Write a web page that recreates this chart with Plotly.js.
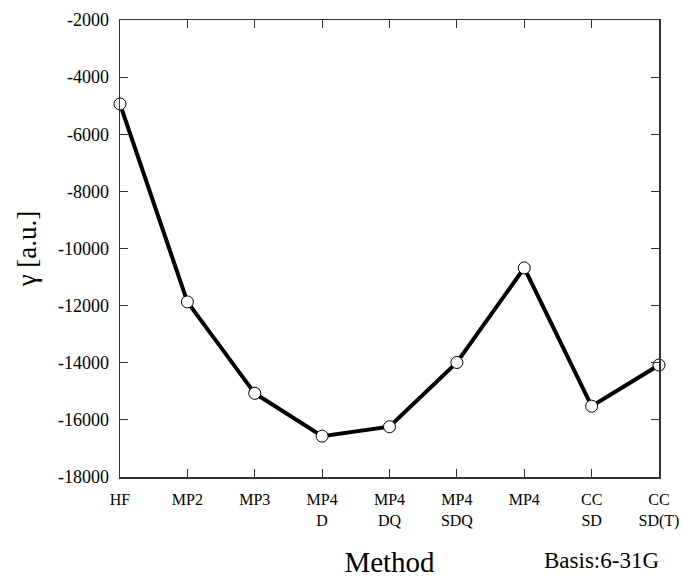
<!DOCTYPE html>
<html>
<head>
<meta charset="utf-8">
<script src="https://cdn.plot.ly/plotly-3.0.1.min.js"></script>
<style>html,body{margin:0;padding:0;background:#fff;}#chart{width:682px;height:578px;}</style>
</head>
<body>
<div id="chart"></div>
<script>
const methods = ["HF", "MP2", "MP3", "MP4<br>D", "MP4<br>DQ", "MP4<br>SDQ", "MP4", "CC<br>SD", "CC<br>SD(T)"];
const gamma = [-4940, -11870, -15070, -16570, -16240, -13990, -10680, -15520, -14080];
const yTickVals = [-18000, -16000, -14000, -12000, -10000, -8000, -6000, -4000, -2000];
const yTickText = ["-18000", "-16000", "-14000", "-12000", "-10000", "-8000", "-6000", "-4000", "-2000"];
const xPos = methods.map((m, i) => i);

const font = "'Liberation Serif', 'Times New Roman', serif";

const trace = {
  x: xPos,
  y: gamma,
  mode: "lines+markers",
  line: {color: "#000", width: 4},
  marker: {symbol: "circle", size: 12, color: "#fff", line: {color: "#000", width: 1}},
  cliponaxis: false,
  hoverinfo: "skip"
};

const layout = {
  width: 682, height: 578,
  margin: {l: 120, r: 23, t: 20, b: 101},
  paper_bgcolor: "#fff", plot_bgcolor: "#fff",
  showlegend: false,
  font: {family: font, color: "#000"},
  xaxis: {
    range: [0, 8],
    tickvals: xPos,
    ticktext: methods,
    ticks: "inside", ticklen: 8, tickwidth: 1, tickcolor: "#333",
    showline: true, linecolor: "#333", linewidth: 1.5, mirror: "allticks",
    showgrid: false, zeroline: false,
    tickfont: {family: font, size: 16, color: "#000"},
    ticklabelstandoff: 7,
    title: {text: "Method", font: {family: font, size: 29, color: "#000"}, standoff: 30}
  },
  yaxis: {
    range: [-18000, -2000],
    tickvals: yTickVals,
    ticktext: yTickText,
    ticks: "inside", ticklen: 8, tickwidth: 1, tickcolor: "#333",
    showline: true, linecolor: "#333", linewidth: 1.5, mirror: "allticks",
    showgrid: false, zeroline: false,
    tickfont: {family: font, size: 18, color: "#000"},
    ticklabelstandoff: 6,
    title: {text: "γ [a.u.]", font: {family: font, size: 27, color: "#000"}, standoff: 13}
  },
  annotations: [{
    xref: "paper", yref: "paper", x: 1.003, y: -0.182, xanchor: "right", yanchor: "middle",
    text: "Basis:6-31G", showarrow: false,
    font: {family: font, size: 23, color: "#000"}
  }]
};

Plotly.newPlot("chart", [trace], layout, {displayModeBar: false, staticPlot: true});
</script>
</body>
</html>
